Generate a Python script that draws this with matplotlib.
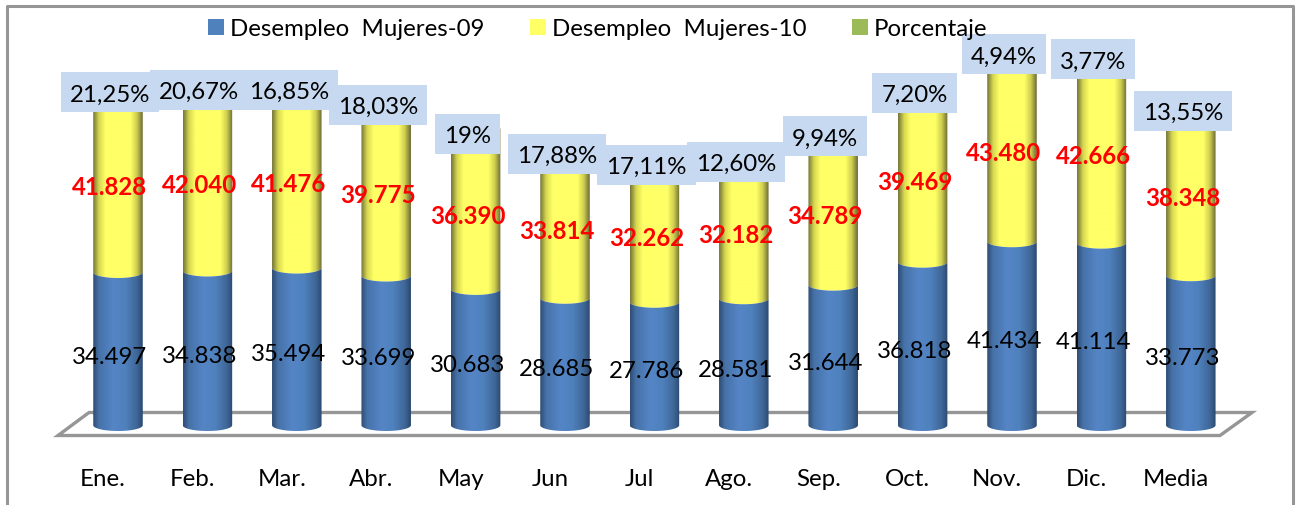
import numpy as np
import matplotlib
matplotlib.use('Agg')
from matplotlib import pyplot as plt
from matplotlib.colors import LinearSegmentedColormap
from matplotlib.patches import PathPatch, Patch, Polygon, Rectangle
from matplotlib.path import Path

plt.rcParams['font.family'] = ['Lato', 'DejaVu Sans']

meses = ['Ene.', 'Feb.', 'Mar.', 'Abr.', 'May', 'Jun', 'Jul', 'Ago.', 'Sep.', 'Oct.', 'Nov.', 'Dic.', 'Media']
mujeres_09 = [34497, 34838, 35494, 33699, 30683, 28685, 27786, 28581, 31644, 36818, 41434, 41114, 33773]
mujeres_10 = [41828, 42040, 41476, 39775, 36390, 33814, 32262, 32182, 34789, 39469, 43480, 42666, 38348]
porcentaje = ['21,25%', '20,67%', '16,85%', '18,03%', '19%', '17,88%', '17,11%', '12,60%', '9,94%', '7,20%', '4,94%', '3,77%', '13,55%']

W, H = 1298, 506
X0, DX = 118.0, 89.4       # pixel of first bar, pixels per category
Y0, SY = 432.0, 0.004435   # pixel of zero, pixels per person
PT = 0.72                  # pixels to points at dpi 100
FS = 17.3
GRIS = '#969696'
BAJA = 1.5 / SY            # small shift down for text

azul = LinearSegmentedColormap.from_list('azul', [(0, '#2f4d75'), (0.12, '#4672a8'), (0.4, '#5585c6'),
                                                  (0.65, '#4f81bd'), (0.88, '#3f6798'), (1, '#2c4a70')])
amarillo = LinearSegmentedColormap.from_list('amarillo', [(0, '#77773a'), (0.12, '#d8d850'), (0.25, '#ffff66'),
                                                          (0.75, '#ffff66'), (0.88, '#cfcf50'), (1, '#6e6e36')])


def cilindro(ax, x, abajo, arriba, cmap, ancho=0.277, alto=1300):
    # a cylinder piece: gradient image clipped to a body with a rounded bottom
    t = np.linspace(np.pi, 2 * np.pi, 40)
    xs = x + ancho * np.cos(t)
    ys = abajo + alto + alto * np.sin(t)
    t2 = t[::-1]
    xs = np.concatenate([xs, x + ancho * np.cos(t2)])
    ys = np.concatenate([ys, arriba + alto + alto * np.sin(t2)])
    verts = list(zip(xs, ys)) + [(xs[0], ys[0])]
    clip = PathPatch(Path(verts, closed=True), fc='none', ec='none', transform=ax.transData)
    ax.add_patch(clip)
    img = ax.imshow(np.linspace(0, 1, 100).reshape(1, -1), cmap=cmap, aspect='auto',
                    extent=(x - ancho, x + ancho, abajo - alto, arriba + 2 * alto), zorder=3,
                    interpolation='bilinear')
    img.set_clip_path(clip)


fig = plt.figure(figsize=(W / 100, H / 100), dpi=100, facecolor='white')
ax = fig.add_axes([0, 0, 1, 1])
xlim = (-X0 / DX, (W - X0) / DX)
ylim = (-(H - Y0) / SY, Y0 / SY)
ax.axis('off')

# marco del grafico
ax.plot([7 / W, 7 / W, 1293 / W, 1293 / W], [0, 1 - 7 / H, 1 - 7 / H, 0], color=GRIS, lw=2.2,
        transform=ax.transAxes, zorder=1)

# suelo 3D
px_x = lambda p: (p - X0) / DX
px_y = lambda p: (Y0 - p) / SY
suelo = [(px_x(58), px_y(436.5)), (px_x(1220), px_y(436.5)), (px_x(1252), px_y(413.5)), (px_x(89), px_y(413.5))]
ax.add_patch(Polygon(suelo, closed=True, fc='white', ec=GRIS, lw=2.4, zorder=2))

ax.set_xlim(xlim)
ax.set_ylim(ylim)
renderer = fig.canvas.get_renderer()

for i in range(len(meses)):
    v1, v2 = mujeres_09[i], mujeres_10[i]
    cilindro(ax, i, v1, v1 + v2, amarillo)
    cilindro(ax, i, 0, v1, azul)
    ax.text(i - 0.09, v1 / 2 - BAJA, f'{v1:,}'.replace(',', '.'), ha='center', va='center',
            fontsize=FS, color='black', zorder=5)
    ax.text(i - 0.09, v1 + v2 / 2 - BAJA, f'{v2:,}'.replace(',', '.'), ha='center', va='center',
            fontsize=FS, color='#ff0000', fontweight='bold', zorder=5)
    txt = ax.text(i - 0.09, v1 + v2 - BAJA, porcentaje[i], ha='center', va='center', fontsize=FS,
                  color='black', zorder=6)
    # the box is as wide as the label plus a margin, always 40 px tall
    ancho_caja = (txt.get_window_extent(renderer).width + 18) / DX
    alto_caja = 40 / SY
    ax.add_patch(Rectangle((i - 0.09 - ancho_caja / 2, v1 + v2 - alto_caja / 2), ancho_caja, alto_caja,
                           fc='#c6d9f0', ec='none', zorder=4))
    ax.annotate(meses[i], (i, 0), xytext=(-15 * PT, -47.5 * PT), textcoords='offset points',
                ha='center', va='center', fontsize=FS, color='black', zorder=5)

ax.set_xlim(xlim)
ax.set_ylim(ylim)

handles = [Patch(fc='#4f81bd', label='Desempleo  Mujeres-09'),
           Patch(fc='#ffff66', label='Desempleo  Mujeres-10'),
           Patch(fc='#9bbb59', label='Porcentaje')]
fig.legend(handles=handles, ncol=3, frameon=False, fontsize=FS, loc='center',
           bbox_to_anchor=(598 / W, 1 - 30 / H), handlelength=0.65, handleheight=0.65,
           handletextpad=0.26, columnspacing=1.9, borderpad=0, borderaxespad=0)

fig.savefig('out.png', dpi=100, facecolor='white')
